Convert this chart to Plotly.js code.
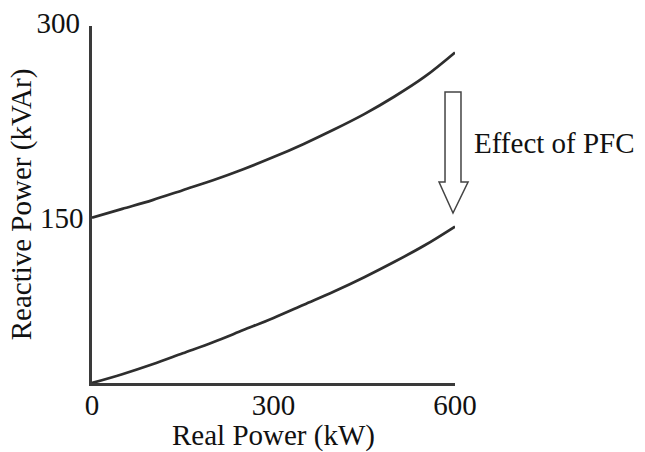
<!DOCTYPE html>
<html>
<head>
<meta charset="utf-8">
<script src="https://cdn.plot.ly/plotly-3.0.1.min.js"></script>
<style>html,body{margin:0;padding:0;background:#fff}#chart{width:645px;height:452px}</style>
</head>
<body>
<div id="chart"></div>
<script>
// Real power (kW)
const realPower = [0, 50, 100, 150, 200, 250, 300, 350, 400, 450, 500, 550, 600];
// Reactive power before PFC (kVAr)
const reactiveBefore = [150, 158, 166, 175, 184, 194, 205, 217, 230, 244, 260, 278, 300];
// Reactive power after PFC (kVAr)
const reactiveAfter = [0, 8, 17, 27, 37, 48, 59, 71, 83, 96, 110, 125, 142];
const xTickVals = [0, 300, 600];
const xTickText = ['0', '300', '600'];
const yTickVals = [150];
const yTickText = ['150'];
const yTopTickVals = [300];
const yTopTickText = ['300'];

const fontFam = '"Liberation Serif", "Times New Roman", serif';
const lineColor = '#2e2e2e';
const FS = 29;

const traces = [
  {x: realPower, y: reactiveBefore, yaxis: 'y2', mode: 'lines', line: {color: lineColor, width: 2.7, shape: 'spline'}, showlegend: false, hoverinfo: 'skip'},
  {x: realPower, y: reactiveAfter, mode: 'lines', line: {color: lineColor, width: 2.7, shape: 'spline'}, showlegend: false, hoverinfo: 'skip'}
];

const layout = {
  width: 645, height: 452,
  margin: {l: 92, r: 190, t: 26, b: 69},
  paper_bgcolor: '#fff', plot_bgcolor: '#fff',
  font: {family: fontFam, size: FS, color: '#111'},
  showlegend: false,
  xaxis: {
    range: [0, 600], showgrid: false, zeroline: false,
    showline: true, linecolor: '#3a3a3a', linewidth: 2.7,
    tickvals: xTickVals, ticktext: xTickText, ticks: '',
    ticklabelstandoff: -6,
    tickfont: {family: fontFam, size: FS, color: '#111'},
    title: {text: 'Real Power (kW)', font: {family: fontFam, size: FS, color: '#111'}, standoff: 8}
  },
  yaxis: {
    range: [0, 324], showgrid: false, zeroline: false,
    showline: true, linecolor: '#3a3a3a', linewidth: 2.7,
    tickvals: yTickVals, ticktext: yTickText, ticks: '',
    tickfont: {family: fontFam, size: FS, color: '#111'},
    title: {text: 'Reactive Power (kVAr)', font: {family: fontFam, size: FS, color: '#111'}, standoff: 0}
  },
  yaxis2: {
    overlaying: 'y', side: 'left', range: [0, 324],
    showgrid: false, zeroline: false, showline: false,
    tickvals: yTopTickVals, ticktext: yTopTickText, ticks: '',
    ticklabelshift: -30, ticklabelstandoff: 11,
    tickfont: {family: fontFam, size: FS, color: '#111'}
  },
  shapes: [
    {type: 'path', xref: 'paper', yref: 'paper',
     path: 'M 0.9725 0.815 L 1.0165 0.815 L 1.0165 0.563 L 1.036 0.563 L 0.9945 0.476 L 0.956 0.563 L 0.9725 0.563 Z',
     fillcolor: '#ffffff', line: {color: '#444', width: 1.5}}
  ],
  annotations: [
    {xref: 'paper', yref: 'paper', x: 1.047, y: 0.672, xanchor: 'left', yanchor: 'middle',
     text: 'Effect of PFC', showarrow: false, font: {family: fontFam, size: FS, color: '#111'}}
  ]
};

Plotly.newPlot('chart', traces, layout, {staticPlot: true, displayModeBar: false});
</script>
</body>
</html>
